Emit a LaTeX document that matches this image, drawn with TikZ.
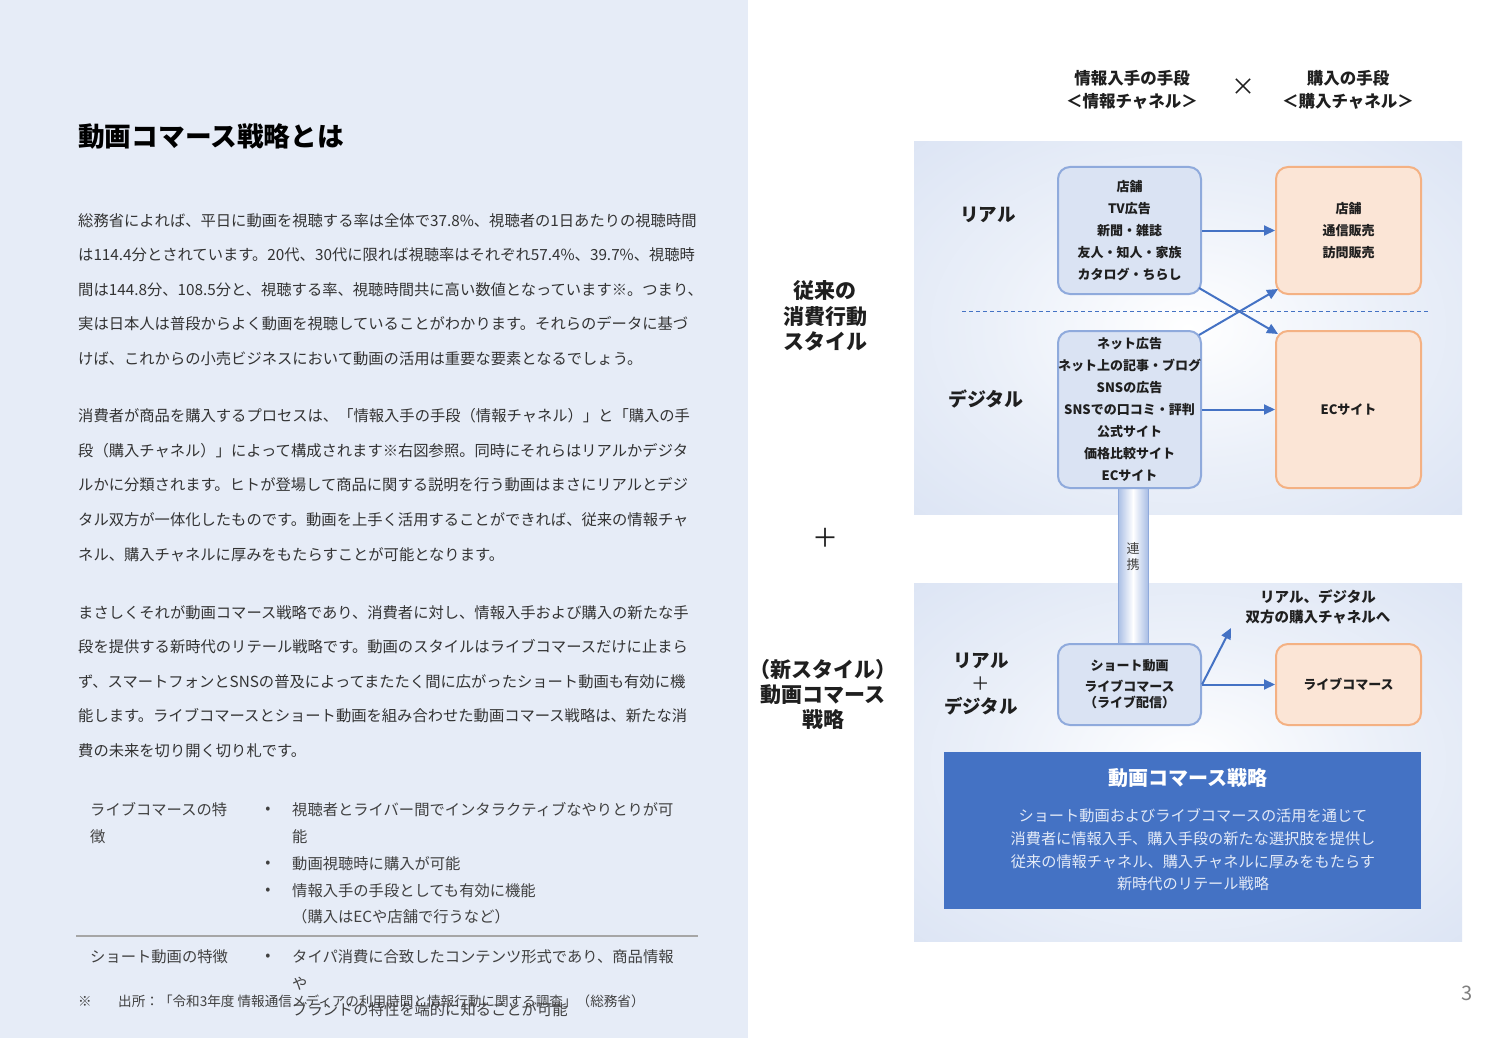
\documentclass[tikz,border=0pt]{standalone}
\usepackage{fontspec}
\setmainfont{Noto Sans CJK JP}
\usetikzlibrary{arrows.meta}
\definecolor{leftbg}{HTML}{E6ECF7}
\definecolor{bodytxt}{HTML}{333333}
\definecolor{tabtxt}{HTML}{404040}
\definecolor{dtxt}{HTML}{1F1F1F}
\definecolor{bfill}{HTML}{DAE3F3}
\definecolor{bdraw}{HTML}{8FAADC}
\definecolor{ofill}{HTML}{FBE5D6}
\definecolor{odraw}{HTML}{F4B183}
\definecolor{accent}{HTML}{4472C4}
\definecolor{pcorner}{HTML}{B4C7E7}
\definecolor{pedge}{HTML}{D9E2F3}
\definecolor{pmid}{HTML}{EBF0F9}
\definecolor{rulegray}{HTML}{A6A6A6}
\definecolor{pagegray}{HTML}{808080}
\definecolor{stxt}{HTML}{E3EAF7}
\definecolor{linkedge}{HTML}{A9BEE5}
\pgfdeclareradialshading{panelshade}{\pgfpoint{0bp}{0bp}}{color(0bp)=(white); color(18bp)=(pmid); color(40bp)=(pedge); color(70bp)=(pcorner)}
\newcommand\fsz[2]{\fontsize{#1}{#2}\selectfont}
\tikzset{
  panel/.style={shading=panelshade, draw=none, inner sep=0pt},
  bbox/.style={draw=bdraw, fill=bfill, line width=2pt, rounded corners=12pt, minimum width=143pt, inner sep=0pt, align=center, text=dtxt, font=\bfseries\fsz{13}{22}},
  obox/.style={draw=odraw, fill=ofill, line width=2pt, rounded corners=12pt, minimum width=145pt, inner sep=0pt, align=center, text=dtxt, font=\bfseries\fsz{13}{22}},
  arr/.style={draw=accent, line width=2pt, -{Triangle[length=11pt,width=10pt]}},
  body/.style={anchor=west, inner sep=0pt, text=bodytxt, font=\fsz{15.3}{18}},
  tab/.style={anchor=west, inner sep=0pt, text=tabtxt, font=\fsz{15.3}{18}},
  bul/.style={inner sep=0pt, text=tabtxt, font=\fsz{15}{15}},
  lab/.style={inner sep=0pt, align=center, text=dtxt},
}
\begin{document}
\begin{tikzpicture}[x=1pt,y=-1pt]
\path[use as bounding box] (0,0) rectangle (1500,1038);
\fill[white] (0,0) rectangle (1500,1038);
\fill[leftbg] (0,0) rectangle (748,1038);

% ---------- left column ----------
\node[anchor=west, inner sep=0pt, text=black, font=\bfseries\fsz{26.7}{30}] (title) at (78,136) {動画コマース戦略とは};

\node[body] (p1a) at (78,221) {総務省によれば、平日に動画を視聴する率は全体で37.8\%、視聴者の1日あたりの視聴時間};
\node[body] (p1b) at (78,255) {は114.4分とされています。20代、30代に限れば視聴率はそれぞれ57.4\%、39.7\%、視聴時};
\node[body] (p1c) at (78,290) {間は144.8分、108.5分と、視聴する率、視聴時間共に高い数値となっています※。つまり、};
\node[body] (p1d) at (78,324) {実は日本人は普段からよく動画を視聴していることがわかります。それらのデータに基づ};
\node[body] (p1e) at (78,359) {けば、これからの小売ビジネスにおいて動画の活用は重要な要素となるでしょう。};

\node[body] (p2a) at (78,416) {消費者が商品を購入するプロセスは、「情報入手の手段（情報チャネル）」と「購入の手};
\node[body] (p2b) at (78,451) {段（購入チャネル）」によって構成されます※右図参照。同時にそれらはリアルかデジタ};
\node[body] (p2c) at (78,485) {ルかに分類されます。ヒトが登場して商品に関する説明を行う動画はまさにリアルとデジ};
\node[body] (p2d) at (78,520) {タル双方が一体化したものです。動画を上手く活用することができれば、従来の情報チャ};
\node[body] (p2e) at (78,555) {ネル、購入チャネルに厚みをもたらすことが可能となります。};

\node[body] (p3a) at (78,613) {まさしくそれが動画コマース戦略であり、消費者に対し、情報入手および購入の新たな手};
\node[body] (p3b) at (78,647) {段を提供する新時代のリテール戦略です。動画のスタイルはライブコマースだけに止まら};
\node[body] (p3c) at (78,682) {ず、スマートフォンとSNSの普及によってまたたく間に広がったショート動画も有効に機};
\node[body] (p3d) at (78,716) {能します。ライブコマースとショート動画を組み合わせた動画コマース戦略は、新たな消};
\node[body] (p3e) at (78,751) {費の未来を切り開く切り札です。};

% table
\node[tab] (th1a) at (90,810) {ライブコマースの特};
\node[tab] (th1b) at (90,837) {徴};
\node[bul] (b1) at (268,810) {•};
\node[tab] (td1a) at (292,810) {視聴者とライバー間でインタラクティブなやりとりが可};
\node[tab] (td1b) at (292,837) {能};
\node[bul] (b2) at (268,864) {•};
\node[tab] (td1c) at (292,864) {動画視聴時に購入が可能};
\node[bul] (b3) at (268,891) {•};
\node[tab] (td1d) at (292,891) {情報入手の手段としても有効に機能};
\node[tab] (td1e) at (292,917) {（購入はECや店舗で行うなど）};
\coordinate (rl) at (76,936);
\coordinate (rr) at (698,936);
\draw[rulegray, line width=2pt] (rl) -- (rr);
\node[tab] (th2) at (90,957) {ショート動画の特徴};
\node[bul] (b4) at (268,957) {•};
\node[tab] (td2a) at (292,957) {タイパ消費に合致したコンテンツ形式であり、商品情報};
\node[tab] (td2b) at (292,984) {や};
\node[tab] (td2c) at (292,1010) {ブランドの特性を端的に知ることが可能};
\node[anchor=west, inner sep=0pt, text=tabtxt, font=\fsz{13.6}{16}] (fn1) at (78,1001) {※};
\node[anchor=west, inner sep=0pt, text=tabtxt, font=\fsz{13.6}{16}] (fn2) at (118,1001) {出所：「令和3年度 情報通信メディアの利用時間と情報行動に関する調査」（総務省）};

% ---------- right diagram ----------
\node[lab, font=\bfseries\fsz{16.5}{23}] (hinfo) at (1132,89.5) {情報入手の手段\\＜情報チャネル＞};
\node[lab, font=\fsz{24}{24}] (times) at (1243,87) {×};
\node[lab, font=\bfseries\fsz{16.5}{23}] (hbuy) at (1348,89.5) {購入の手段\\＜購入チャネル＞};

\node[lab, font=\bfseries\fsz{21}{25.5}] (old) at (825,316) {従来の\\消費行動\\スタイル};
\node[lab, font=\fsz{26}{26}] (plus) at (825,538) {＋};
\node[lab, font=\bfseries\fsz{21}{25}] (new) at (823,694) {（新スタイル）\\動画コマース\\戦略};

\node[panel, minimum width=548pt, minimum height=372pt] (toppanel) at (1188,328) {};
\node[panel, minimum width=548pt, minimum height=358pt] (botpanel) at (1188,762) {};

\node[lab, font=\bfseries\fsz{18.5}{20}] (real1) at (988,215) {リアル};
\node[lab, font=\bfseries\fsz{19}{20}] (dig1) at (986,399) {デジタル};
\node[lab, font=\bfseries\fsz{18.5}{23}] (rd) at (981,684) {リアル\\{\mdseries ＋}\\デジタル};

\coordinate (dl) at (962,311);
\coordinate (dr) at (1428,311);
\draw[accent, line width=0.8pt, dash pattern=on 4pt off 3pt] (dl) -- (dr);

% link bar
\node[draw=bdraw, line width=1pt, left color=linkedge, right color=linkedge, middle color=white, minimum width=30pt, minimum height=156pt, inner sep=0pt] (link) at (1133,566) {};
\node[lab, text=tabtxt, font=\fsz{13}{16}] (linktxt) at (1133,557) {連\\携};

\node[bbox, minimum height=127pt] (inforeal) at (1129.5,230.5) {店舗\\TV広告\\新聞・雑誌\\友人・知人・家族\\カタログ・ちらし};
\node[obox, minimum height=127pt] (purreal) at (1348.5,230.5) {店舗\\通信販売\\訪問販売};
\node[bbox, minimum height=157pt] (infodig) at (1129.5,409.5) {ネット広告\\ネット上の記事・ブログ\\SNSの広告\\SNSでの口コミ・評判\\公式サイト\\価格比較サイト\\ECサイト};
\node[obox, minimum height=157pt] (ec) at (1348.5,409.5) {ECサイト};

\draw[arr] (inforeal.east) -- (purreal.west);
\draw[arr] (infodig.east) -- (ec.west);
\draw[arr] ([shift={(-3,-7)}]inforeal.south east) -- ([shift={(3,4)}]ec.north west);
\draw[arr] ([shift={(-3,5)}]infodig.north east) -- ([shift={(3,-6)}]purreal.south west);

\node[lab, font=\bfseries\fsz{14.5}{20}] (both) at (1318,607) {リアル、デジタル\\双方の購入チャネルへ};
\node[bbox, minimum height=81pt, font=\bfseries\fsz{13}{16}] (short) at (1129.5,684.5) {ショート動画\\[5pt]ライブコマース\\（ライブ配信）};
\node[obox, minimum height=81pt] (live) at (1348.5,684.5) {ライブコマース};
\coordinate (upend) at (1231,628);
\draw[arr] (short.east) -- (live.west);
\draw[arr] (short.east) -- (upend);

\node[fill=accent, draw=none, minimum width=477pt, minimum height=157pt, inner sep=0pt] (strat) at (1182.5,830.5) {};
\node[lab, text=white, font=\bfseries\fsz{20}{22}] (strattitle) at (1188,778) {動画コマース戦略};
\node[lab, text=stxt, font=\fsz{15.2}{22.7}] (stratbody) at (1193,850) {ショート動画およびライブコマースの活用を通じて\\消費者に情報入手、購入手段の新たな選択肢を提供し\\従来の情報チャネル、購入チャネルに厚みをもたらす\\新時代のリテール戦略};

\node[lab, text=pagegray, font=\fsz{20}{20}] (pagenum) at (1467,993) {3};
\end{tikzpicture}
\end{document}
